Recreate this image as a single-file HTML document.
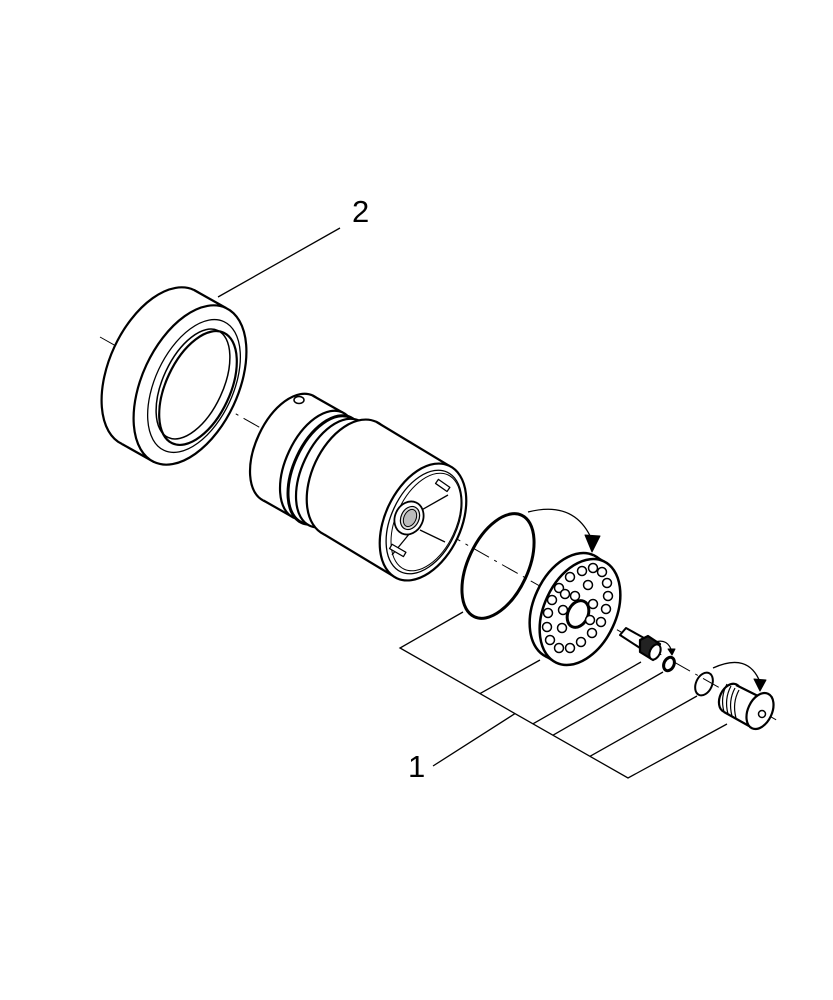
<!DOCTYPE html>
<html><head><meta charset="utf-8"><style>
html,body{margin:0;padding:0;background:#fff}
svg{display:block}
text{font-family:"Liberation Sans",sans-serif;fill:#000}
</style></head><body>
<svg width="833" height="1000" viewBox="0 0 833 1000" xmlns="http://www.w3.org/2000/svg">
<g fill="none" stroke="#000" stroke-width="1.3">
<!-- axis -->
<line x1="100" y1="337" x2="780" y2="722" stroke-width="1" stroke-dasharray="18 6 3 6"/>
<!-- leader 2 -->
<line x1="340" y1="228" x2="218" y2="297"/>
<!-- leaders 1 -->
<polyline points="463,612 400,648 628,778 727,724"/>
<line x1="480" y1="693.6" x2="540" y2="660"/>
<line x1="533" y1="723.8" x2="641" y2="662"/>
<line x1="553" y1="735.2" x2="663" y2="672"/>
<line x1="590" y1="756.3" x2="697" y2="696"/>
<line x1="433" y1="766" x2="515" y2="713.6"/>
</g>
<text x="352" y="222" font-size="31">2</text>
<text x="408" y="777" font-size="31">1</text>

<g stroke="#000" stroke-width="2.2" fill="#fff" stroke-linejoin="round">
<!-- ring -->
<ellipse cx="158" cy="367" rx="48" ry="85" transform="rotate(25 158 367)"/>
<polygon points="194,290 226,308 154,462 122,444" stroke="none"/>
<line x1="194" y1="290" x2="226" y2="308"/>
<line x1="122" y1="444" x2="154" y2="462"/>
<ellipse cx="190" cy="385" rx="48" ry="85" transform="rotate(25 190 385)"/>
<ellipse cx="194" cy="386" rx="39" ry="71" transform="rotate(25 194 386)" stroke-width="1.3"/>
<ellipse cx="198" cy="388" rx="32" ry="61" transform="rotate(25 198 388)"/>
<ellipse cx="193" cy="384" rx="30" ry="59" transform="rotate(25 193 384)" stroke-width="1.5" fill="none"/>

<!-- small cylinder -->
<ellipse cx="288" cy="448" rx="32" ry="58" transform="rotate(25 288 448)"/>
<polygon points="312.5,395.5 342.5,412.5 293.5,517.5 263.5,500.5" stroke="none"/>
<line x1="312.5" y1="395.5" x2="342.5" y2="412.5"/>
<line x1="263.5" y1="500.5" x2="293.5" y2="517.5"/>
<ellipse cx="318" cy="465" rx="32" ry="58" transform="rotate(25 318 465)"/>
<ellipse cx="326" cy="470" rx="32" ry="58" transform="rotate(25 326 470)" stroke-width="3"/>
<ellipse cx="334" cy="473" rx="32" ry="58" transform="rotate(25 334 473)"/>
<ellipse cx="299" cy="400" rx="5" ry="3.5" stroke-width="1.5"/>
<!-- large cylinder -->
<ellipse cx="350" cy="478" rx="38" ry="62" transform="rotate(25 350 478)"/>
<polygon points="376.2,421.8 449.2,465.8 396.8,578.2 323.8,534.2" stroke="none"/>
<line x1="376.2" y1="421.8" x2="449.2" y2="465.8"/>
<line x1="323.8" y1="534.2" x2="396.8" y2="578.2"/>
<ellipse cx="423" cy="522" rx="38" ry="62" transform="rotate(25 423 522)"/>
<ellipse cx="424" cy="522" rx="33" ry="55" transform="rotate(25 424 522)" stroke-width="1.3"/>
<ellipse cx="426" cy="522" rx="30" ry="52" transform="rotate(25 426 522)" stroke-width="1"/>
<line x1="418" y1="512" x2="448" y2="495" stroke-width="1.3"/>
<line x1="420" y1="530" x2="445" y2="542" stroke-width="1.3"/>
<line x1="410" y1="533" x2="392" y2="555" stroke-width="1.3"/>
<rect x="436" y="483" width="14" height="5" transform="rotate(35 443 485)" stroke-width="1.3"/>
<rect x="390" y="548" width="16" height="5" transform="rotate(30 398 550)" stroke-width="1.3"/>
<ellipse cx="409" cy="518" rx="14" ry="17" transform="rotate(25 409 518)" stroke-width="1.8"/>
<ellipse cx="410" cy="518" rx="9" ry="12" transform="rotate(25 410 518)" stroke-width="1.2" fill="#ddd"/>
<ellipse cx="410" cy="518" rx="6" ry="9" transform="rotate(25 410 518)" stroke-width="1" fill="#bbb"/>

<!-- o-ring -->
<ellipse cx="498" cy="566" rx="30" ry="56" transform="rotate(25 498 566)" fill="none" stroke-width="3"/>

<!-- disc -->
<ellipse cx="570" cy="606" rx="36" ry="56" transform="rotate(25 570 606)" stroke-width="2.5"/>
<polygon points="593.7,555.3 603.7,561.3 556.3,662.7 546.3,656.7" stroke="none"/>
<line x1="593.7" y1="555.3" x2="603.7" y2="561.3"/>
<line x1="546.3" y1="656.7" x2="556.3" y2="662.7"/>
<ellipse cx="580" cy="612" rx="36" ry="56" transform="rotate(25 580 612)" stroke-width="2.5"/>
<ellipse cx="578" cy="614" rx="10" ry="14" transform="rotate(25 578 614)" stroke-width="3"/>
<g stroke-width="1.5">
<circle cx="570" cy="577" r="4.5"/><circle cx="582" cy="571" r="4.5"/><circle cx="593" cy="568" r="4.5"/><circle cx="602" cy="572" r="4.5"/>
<circle cx="559" cy="588" r="4.5"/><circle cx="607" cy="583" r="4.5"/><circle cx="552" cy="600" r="4.5"/><circle cx="608" cy="596" r="4.5"/>
<circle cx="548" cy="613" r="4.5"/><circle cx="606" cy="609" r="4.5"/><circle cx="547" cy="627" r="4.5"/><circle cx="601" cy="622" r="4.5"/>
<circle cx="550" cy="640" r="4.5"/><circle cx="592" cy="633" r="4.5"/><circle cx="559" cy="648" r="4.5"/><circle cx="581" cy="642" r="4.5"/>
<circle cx="570" cy="648" r="4.5"/><circle cx="565" cy="594" r="4.5"/><circle cx="588" cy="585" r="4.5"/><circle cx="563" cy="610" r="4.5"/>
<circle cx="593" cy="604" r="4.5"/><circle cx="562" cy="628" r="4.5"/><circle cx="575" cy="596" r="4.5"/><circle cx="590" cy="620" r="4.5"/>
</g>

<!-- cartridge -->
<polygon points="620,635 626,628 644,638 640,648" stroke-width="2"/>
<polygon points="640,640 648,636 660,644 653,660 640,652" stroke-width="2.2" fill="#222"/>
<ellipse cx="655" cy="652" rx="5" ry="8" transform="rotate(25 655 652)" stroke-width="2"/>
<path d="M655 642 Q668 638 672 652" fill="none" stroke-width="1.2"/>
<polygon points="668,649 675,649 672,655" fill="#000" stroke-width="1"/>
<ellipse cx="669" cy="664" rx="5" ry="7" transform="rotate(25 669 664)" fill="none" stroke-width="3"/>
<ellipse cx="704" cy="684" rx="8" ry="12" transform="rotate(25 704 684)" fill="none" stroke-width="2"/>

<!-- cap -->
<ellipse cx="730" cy="698" rx="10" ry="15" transform="rotate(25 730 698)"/>
<polygon points="736,685 762,698 749,726 724,712" stroke="none"/>
<line x1="736" y1="685" x2="762" y2="698"/>
<line x1="724" y1="712" x2="749" y2="726"/>
<g stroke-width="1.2" fill="none">
<path d="M727 684 Q720 697 724 712"/><path d="M731 686 Q724 699 728 714"/><path d="M735 688 Q728 701 732 716"/><path d="M739 690 Q732 703 736 718"/>
</g>
<ellipse cx="760" cy="711" rx="12" ry="19" transform="rotate(25 760 711)" stroke-width="2.2"/>
<circle cx="762" cy="714" r="3.5" stroke-width="1.5"/>
<path d="M713 668 Q748 652 760 682" fill="none" stroke-width="1.3"/>
<polygon points="754,679 766,680 760,691" fill="#000" stroke-width="1"/>

<!-- big arrow -->
<path d="M528 512 Q575 500 592 540" fill="none" stroke-width="1.3"/>
<polygon points="585,535 600,536 592,552" fill="#000" stroke-width="1"/>
</g>
</svg>
</body></html>
